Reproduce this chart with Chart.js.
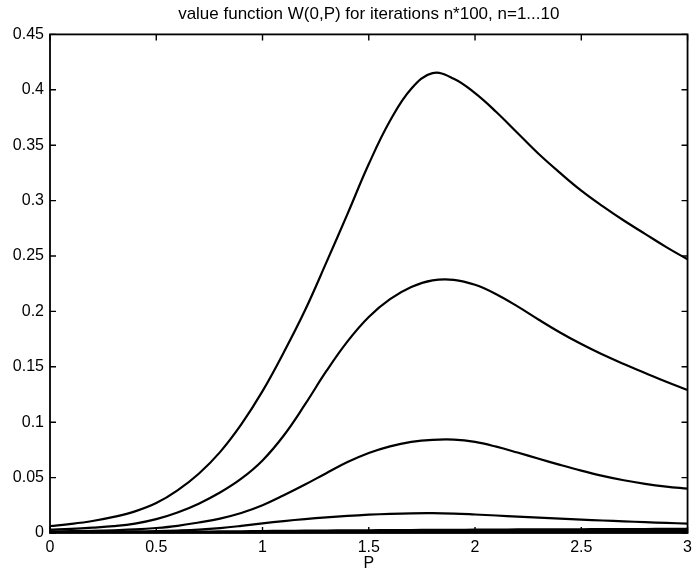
<!DOCTYPE html>
<html><head><meta charset="utf-8">
<script src="https://cdn.jsdelivr.net/npm/chart.js@4/dist/chart.umd.min.js"></script>
<style>html,body{margin:0;padding:0;background:#fff}#wrap{width:697px;height:576px}</style>
</head><body><div id="wrap"><canvas id="c" width="697" height="576"></canvas></div>
<script>
const titleText = 'value function W(0,P) for iterations n*100, n=1...10';
const xLabel = 'P';
const xTicks = [0, 0.5, 1, 1.5, 2, 2.5, 3];
const yTicks = [0, 0.05, 0.1, 0.15, 0.2, 0.25, 0.3, 0.35, 0.4, 0.45];
const P  = [0, 0.1, 0.2, 0.3, 0.4, 0.5, 0.6, 0.7, 0.8, 0.9, 1.0, 1.1, 1.2, 1.3, 1.4, 1.5, 1.6, 1.7, 1.8, 1.9, 2.0, 2.1, 2.2, 2.3, 2.4, 2.5, 2.6, 2.7, 2.8, 2.9, 3.0];
const w1 = [0.0063, 0.0082, 0.0108, 0.0145, 0.0195, 0.027, 0.0385, 0.0535, 0.073, 0.098, 0.128, 0.163, 0.201, 0.244, 0.288, 0.333, 0.372, 0.401, 0.415, 0.410, 0.397, 0.380, 0.361, 0.342, 0.325, 0.309, 0.295, 0.282, 0.270, 0.258, 0.247];
const w2 = [0.003, 0.0037, 0.0048, 0.0062, 0.0085, 0.0125, 0.0185, 0.0265, 0.0365, 0.049, 0.0655, 0.088, 0.116, 0.146, 0.173, 0.195, 0.211, 0.222, 0.228, 0.2285, 0.224, 0.2155, 0.2045, 0.1925, 0.181, 0.1705, 0.161, 0.1525, 0.1445, 0.1365, 0.129];
const w3 = [0.0015, 0.0017, 0.002, 0.0025, 0.0032, 0.0045, 0.0065, 0.0095, 0.013, 0.018, 0.025, 0.034, 0.0437, 0.054, 0.064, 0.0722, 0.0782, 0.0822, 0.0841, 0.0843, 0.0822, 0.0779, 0.0726, 0.067, 0.0615, 0.0563, 0.0516, 0.0476, 0.0444, 0.0419, 0.040];
const w4 = [0.0008, 0.0009, 0.001, 0.0012, 0.0014, 0.0017, 0.0022, 0.003, 0.0044, 0.0064, 0.0087, 0.0108, 0.0126, 0.0141, 0.0154, 0.0165, 0.0173, 0.0178, 0.0179, 0.0175, 0.0167, 0.0158, 0.0148, 0.0139, 0.013, 0.0121, 0.0113, 0.0105, 0.0098, 0.0091, 0.0085];
const w5 = [0.0002, 0.0003, 0.0004, 0.0005, 0.0007, 0.0008, 0.001, 0.0012, 0.0014, 0.0016, 0.0018, 0.0019, 0.0021, 0.0022, 0.0024, 0.0025, 0.0026, 0.0027, 0.0028, 0.0029, 0.003, 0.0031, 0.0032, 0.0033, 0.0034, 0.0034, 0.0035, 0.0036, 0.0036, 0.0037, 0.0038];
const w6 = [0.0001, 0.0001, 0.0002, 0.0003, 0.0004, 0.0005, 0.0006, 0.0007, 0.0008, 0.0009, 0.0011, 0.0012, 0.0013, 0.0014, 0.0015, 0.0016, 0.0017, 0.0018, 0.0018, 0.0019, 0.002, 0.0021, 0.0021, 0.0022, 0.0023, 0.0023, 0.0024, 0.0024, 0.0025, 0.0025, 0.0026];
const w7 = [0.0, 0.0001, 0.0001, 0.0002, 0.0003, 0.0003, 0.0004, 0.0005, 0.0005, 0.0006, 0.0007, 0.0008, 0.0008, 0.0009, 0.001, 0.001, 0.0011, 0.0012, 0.0012, 0.0013, 0.0013, 0.0014, 0.0014, 0.0015, 0.0015, 0.0016, 0.0016, 0.0016, 0.0017, 0.0017, 0.0018];
const w8 = [0.0, 0.0, 0.0001, 0.0001, 0.0002, 0.0002, 0.0003, 0.0003, 0.0003, 0.0004, 0.0004, 0.0005, 0.0005, 0.0006, 0.0006, 0.0006, 0.0007, 0.0007, 0.0008, 0.0008, 0.0008, 0.0009, 0.0009, 0.0009, 0.001, 0.001, 0.001, 0.001, 0.0011, 0.0011, 0.0011];
const w9 = [0.0, 0.0, 0.0, 0.0001, 0.0001, 0.0001, 0.0002, 0.0002, 0.0002, 0.0002, 0.0003, 0.0003, 0.0003, 0.0003, 0.0004, 0.0004, 0.0004, 0.0004, 0.0005, 0.0005, 0.0005, 0.0005, 0.0005, 0.0006, 0.0006, 0.0006, 0.0006, 0.0006, 0.0007, 0.0007, 0.0007];
const w10 = [0.0, 0.0, 0.0, 0.0, 0.0001, 0.0001, 0.0001, 0.0001, 0.0001, 0.0001, 0.0002, 0.0002, 0.0002, 0.0002, 0.0002, 0.0002, 0.0002, 0.0003, 0.0003, 0.0003, 0.0003, 0.0003, 0.0003, 0.0003, 0.0003, 0.0004, 0.0004, 0.0004, 0.0004, 0.0004, 0.0004];
const series = [w1, w2, w3, w4, w5, w6, w7, w8, w9, w10];

const FONT = "'Liberation Sans', Arial, Helvetica, sans-serif";
const fmt = v => String(+Number(v).toFixed(2));

const boxPlugin = {
  id: 'matlabBox',
  afterDraw(chart) {
    const {ctx, chartArea: a, scales: {x, y}} = chart;
    ctx.save();
    ctx.strokeStyle = '#000';
    ctx.lineWidth = 1.8;
    ctx.strokeRect(a.left, a.top, a.right - a.left, a.bottom - a.top);
    ctx.lineWidth = 1.4;
    ctx.beginPath();
    const L = 6;
    xTicks.forEach(v => {
      const px = x.getPixelForValue(v);
      ctx.moveTo(px, a.bottom); ctx.lineTo(px, a.bottom - L);
      ctx.moveTo(px, a.top); ctx.lineTo(px, a.top + L);
    });
    yTicks.forEach(v => {
      const py = y.getPixelForValue(v);
      ctx.moveTo(a.left, py); ctx.lineTo(a.left + L, py);
      ctx.moveTo(a.right, py); ctx.lineTo(a.right - L, py);
    });
    ctx.stroke();
    ctx.restore();
  }
};

new Chart(document.getElementById('c'), {
  type: 'line',
  data: {
    datasets: series.map((s, i) => ({
      label: 'n=' + (i + 1),
      data: P.map((p, j) => ({x: p, y: s[j]})),
      borderColor: '#000',
      borderWidth: 2.2,
      pointRadius: 0,
      fill: false,
      tension: 0.4
    }))
  },
  options: {
    responsive: false,
    animation: false,
    devicePixelRatio: 1,
    layout: {padding: {left: 0, right: 1, top: 0, bottom: 0}},
    plugins: {
      legend: {display: false},
      tooltip: {enabled: false},
      title: {
        display: true, text: titleText, color: '#000', fullSize: false,
        font: {family: FONT, size: 17, weight: 'normal'},
        padding: {top: 4, bottom: 10}
      }
    },
    scales: {
      x: {
        type: 'linear', min: 0, max: 3,
        afterBuildTicks: s => { s.ticks = xTicks.map(v => ({value: v})); },
        afterFit: s => { s.height = 43; },
        ticks: {callback: fmt, color: '#000', font: {family: FONT, size: 16}, padding: 5, maxRotation: 0, autoSkip: false},
        grid: {display: false, drawTicks: false},
        border: {display: false},
        title: {display: true, text: xLabel, color: '#000', font: {family: FONT, size: 16}, padding: {top: 0, bottom: 3}}
      },
      y: {
        type: 'linear', min: 0, max: 0.45,
        afterBuildTicks: s => { s.ticks = yTicks.map(v => ({value: v})); },
        afterFit: s => { s.width = 50; },
        ticks: {callback: fmt, color: '#000', font: {family: FONT, size: 16}, padding: 6, autoSkip: false},
        grid: {display: false, drawTicks: false},
        border: {display: false}
      }
    }
  },
  plugins: [boxPlugin]
});
</script>
</body></html>
